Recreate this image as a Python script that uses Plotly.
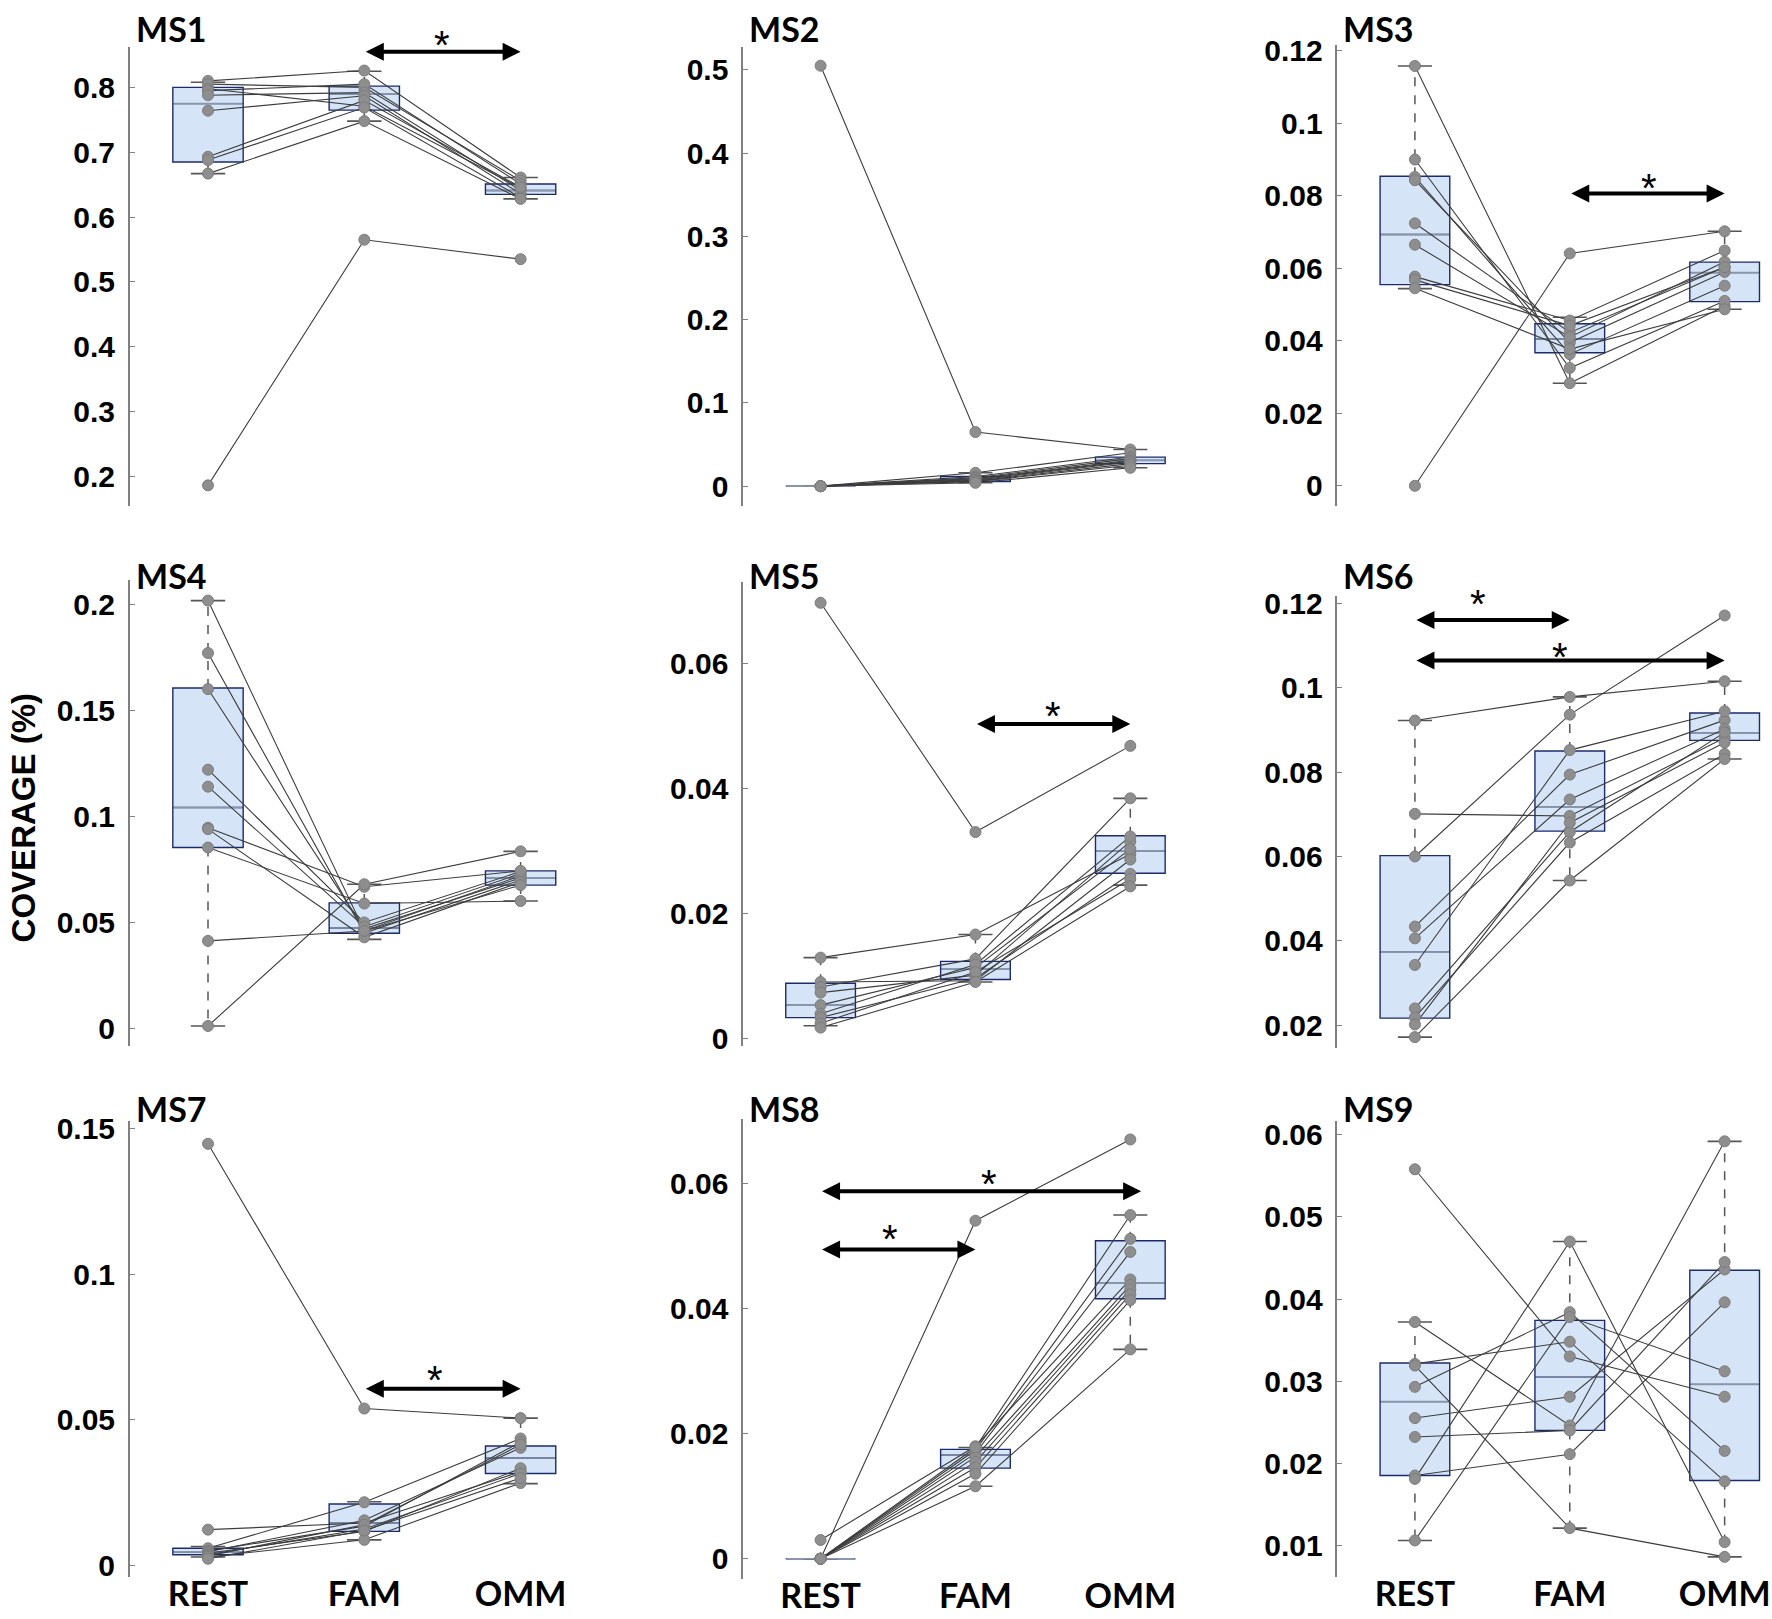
import plotly.graph_objects as go

conditions = ["REST", "FAM", "OMM"]
panel_names = ["MS1", "MS2", "MS3", "MS4", "MS5", "MS6", "MS7", "MS8", "MS9"]

# coverage per subject (10 subjects)
ms1_rest = [0.810, 0.805, 0.798, 0.795, 0.788, 0.764, 0.693, 0.688, 0.667, 0.186]
ms1_fam = [0.826, 0.800, 0.771, 0.805, 0.792, 0.787, 0.780, 0.769, 0.748, 0.565]
ms1_omm = [0.661, 0.656, 0.645, 0.651, 0.641, 0.636, 0.646, 0.630, 0.628, 0.535]

ms2_rest = [0.505, 0, 0, 0, 0, 0, 0, 0, 0, 0]
ms2_fam = [0.065, 0.016, 0.0115, 0.010, 0.009, 0.008, 0.007, 0.006, 0.0055, 0.004]
ms2_omm = [0.044, 0.040, 0.035, 0.033, 0.031, 0.030, 0.029, 0.027, 0.025, 0.022]

ms3_rest = [0.1158, 0.090, 0.0852, 0.0843, 0.0724, 0.0665, 0.0577, 0.0568, 0.0545, 0.0]
ms3_fam = [0.0283, 0.0325, 0.0363, 0.0395, 0.0423, 0.0410, 0.0456, 0.0442, 0.0377, 0.0641]
ms3_omm = [0.0496, 0.0510, 0.0552, 0.0590, 0.0603, 0.0618, 0.0649, 0.0603, 0.0487, 0.0702]

ms4_rest = [0.2017, 0.177, 0.160, 0.122, 0.114, 0.0946, 0.094, 0.0853, 0.0413, 0.0012]
ms4_fam = [0.046, 0.045, 0.047, 0.050, 0.048, 0.0668, 0.043, 0.0589, 0.046, 0.068]
ms4_omm = [0.072, 0.070, 0.071, 0.074, 0.073, 0.0743, 0.069, 0.0601, 0.0676, 0.0835]

ms5_rest = [0.0697, 0.0129, 0.009, 0.0082, 0.0073, 0.0053, 0.0039, 0.0033, 0.0024, 0.0017]
ms5_fam = [0.033, 0.0166, 0.0092, 0.0127, 0.0101, 0.0113, 0.0118, 0.0096, 0.0106, 0.0090]
ms5_omm = [0.0468, 0.0295, 0.0286, 0.0384, 0.0315, 0.0303, 0.0323, 0.0263, 0.0255, 0.0243]

ms6_rest = [0.0922, 0.0701, 0.060, 0.0434, 0.0406, 0.0343, 0.024, 0.0219, 0.0202, 0.0172]
ms6_fam = [0.0978, 0.0696, 0.0936, 0.0794, 0.0735, 0.0852, 0.0658, 0.0633, 0.0680, 0.0543]
ms6_omm = [0.1015, 0.0881, 0.1171, 0.0923, 0.0902, 0.0944, 0.0894, 0.0843, 0.0870, 0.0831]

ms7_rest = [0.1448, 0.0123, 0.0059, 0.0050, 0.0047, 0.0042, 0.0037, 0.0033, 0.0029, 0.0023]
ms7_fam = [0.0539, 0.0146, 0.0217, 0.0135, 0.0155, 0.0117, 0.0125, 0.0140, 0.0088, 0.0120]
ms7_omm = [0.0506, 0.0322, 0.0436, 0.0424, 0.0404, 0.0334, 0.0316, 0.0415, 0.0283, 0.0300]

ms8_rest = [0.0, 0.003, 0, 0, 0, 0, 0, 0, 0, 0]
ms8_fam = [0.0541, 0.0180, 0.0174, 0.0169, 0.0163, 0.0155, 0.0146, 0.0136, 0.0116, 0.0178]
ms8_omm = [0.0671, 0.0447, 0.0512, 0.0491, 0.0438, 0.0431, 0.0423, 0.0414, 0.0335, 0.0550]

ms9_rest = [0.0558, 0.0372, 0.0321, 0.0319, 0.0293, 0.0255, 0.0232, 0.0185, 0.0181, 0.0106]
ms9_fam = [0.0330, 0.0246, 0.0348, 0.0121, 0.0384, 0.0281, 0.0240, 0.0211, 0.0470, 0.0378]
ms9_omm = [0.0281, 0.0592, 0.0178, 0.0086, 0.0215, 0.0436, 0.0445, 0.0396, 0.0104, 0.0312]

# boxplot stats per condition (REST, FAM, OMM): q1, median, q3, whisker low/high
ms1_q1, ms1_med, ms1_q3 = [0.685, 0.765, 0.635], [0.775, 0.790, 0.641], [0.800, 0.802, 0.651]
ms1_lo, ms1_hi = [0.667, 0.748, 0.628], [0.808, 0.825, 0.661]
ms2_q1, ms2_med, ms2_q3 = [0, 0.0055, 0.027], [0, 0.008, 0.031], [0, 0.0115, 0.0348]
ms2_lo, ms2_hi = [0, 0.004, 0.022], [0, 0.016, 0.044]
ms3_q1, ms3_med, ms3_q3 = [0.0555, 0.0367, 0.0508], [0.0693, 0.0405, 0.0588], [0.0854, 0.0447, 0.0617]
ms3_lo, ms3_hi = [0.0544, 0.0283, 0.0487], [0.1158, 0.0465, 0.0702]
ms4_q1, ms4_med, ms4_q3 = [0.0853, 0.0449, 0.0676], [0.1042, 0.0474, 0.071], [0.1605, 0.0592, 0.0743]
ms4_lo, ms4_hi = [0.0012, 0.042, 0.0601], [0.2017, 0.068, 0.0835]
ms5_q1, ms5_med, ms5_q3 = [0.0033, 0.0094, 0.0264], [0.0053, 0.0111, 0.030], [0.0088, 0.0123, 0.0324]
ms5_lo, ms5_hi = [0.002, 0.009, 0.0245], [0.0129, 0.0166, 0.0384]
ms6_q1, ms6_med, ms6_q3 = [0.0217, 0.066, 0.0875], [0.0373, 0.0717, 0.0892], [0.0602, 0.085, 0.094]
ms6_lo, ms6_hi = [0.0172, 0.0543, 0.0831], [0.0922, 0.0978, 0.1015]
ms7_q1, ms7_med, ms7_q3 = [0.0037, 0.0117, 0.0316], [0.0047, 0.0146, 0.0369], [0.0059, 0.0211, 0.041]
ms7_lo, ms7_hi = [0.0029, 0.0088, 0.0281], [0.0065, 0.0219, 0.0506]
ms8_q1, ms8_med, ms8_q3 = [0, 0.0145, 0.0416], [0, 0.0166, 0.0441], [0, 0.0175, 0.0509]
ms8_lo, ms8_hi = [0, 0.0116, 0.0335], [0, 0.0178, 0.055]
ms9_q1, ms9_med, ms9_q3 = [0.0185, 0.024, 0.0179], [0.0275, 0.0305, 0.0296], [0.0322, 0.0374, 0.0435]
ms9_lo, ms9_hi = [0.0106, 0.0121, 0.0086], [0.0372, 0.047, 0.0592]

# y tick labels per panel
ms1_ticks = ["0.2", "0.3", "0.4", "0.5", "0.6", "0.7", "0.8"]
ms2_ticks = ["0", "0.1", "0.2", "0.3", "0.4", "0.5"]
ms3_ticks = ["0", "0.02", "0.04", "0.06", "0.08", "0.1", "0.12"]
ms4_ticks = ["0", "0.05", "0.1", "0.15", "0.2"]
ms5_ticks = ["0", "0.02", "0.04", "0.06"]
ms6_ticks = ["0.02", "0.04", "0.06", "0.08", "0.1", "0.12"]
ms7_ticks = ["0", "0.05", "0.1", "0.15"]
ms8_ticks = ["0", "0.02", "0.04", "0.06"]
ms9_ticks = ["0.01", "0.02", "0.03", "0.04", "0.05", "0.06"]

# significance arrows: (from condition, to condition, level, star x, star y)
ms1_sig = [(1, 2, 0.855, 1.5, 0.881)]
ms3_sig = [(1, 2, 0.0806, 1.51, 0.0848)]
ms5_sig = [(1, 2, 0.0503, 1.5, 0.0531)]
ms6_sig = [(0, 1, 0.116, 0.41, 0.1221), (0, 2, 0.1064, 0.94, 0.1095)]
ms7_sig = [(1, 2, 0.0607, 1.45, 0.067)]
ms8_sig = [(0, 2.07, 0.0588, 1.09, 0.0615), (0, 1, 0.0495, 0.45, 0.0527)]

g = globals()
panels = []
for n in range(1, 10):
    pre = "ms%d_" % n
    panels.append({k: g.get(pre + k) for k in
                   ["rest", "fam", "omm", "q1", "med", "q3", "lo", "hi", "ticks", "sig"]})

# ---- layout geometry (pixels of the 1772x1619 canvas)
W, H = 1772, 1619
col_px = [(130, 565), (744, 1175), (1339, 1770)]
panel_px = [(37, 502), (37, 502), (35, 502),
            (577, 1048), (579, 1048), (593, 1050),
            (1124, 1586), (1122, 1588), (1124, 1586)]
y_ranges = [(0.154, 0.863), (-0.024, 0.528), (-0.0056, 0.1217),
            (-0.0081, 0.2113), (-0.0012, 0.073), (0.0147, 0.1217),
            (-0.0041, 0.1527), (-0.0033, 0.0704), (0.0061, 0.0617)]
title_y = [19, 19, 19, 572, 572, 572, 1112, 1112, 1112]

BOX_FILL = "#d5e4f6"
BOX_EDGE = "#1c2a6e"
MED_COL = "#8a96aa"
WHISK = "#555555"
LINE_COL = "#3d3d3d"
DOT = "#8e8e8e"

fig = go.Figure()
layout = {}
annotations = []

for i, p in enumerate(panels):
    k = i + 1
    xa = "x" if k == 1 else "x%d" % k
    ya = "y" if k == 1 else "y%d" % k
    pos = [0, 1, 2]

    # boxes (no whiskers here, they are drawn dashed below)
    fig.add_trace(go.Box(x=pos, q1=p["q1"], median=p["med"], q3=p["q3"],
                         lowerfence=p["q1"], upperfence=p["q3"],
                         width=0.45, whiskerwidth=0, boxpoints=False,
                         fillcolor=BOX_FILL, line=dict(color=BOX_EDGE, width=1.4),
                         xaxis=xa, yaxis=ya, showlegend=False, hoverinfo="skip"))

    wx, wy, cx, cy, mx, my = [], [], [], [], [], []
    for j in pos:
        wx += [j, j, None, j, j, None]
        wy += [p["q3"][j], p["hi"][j], None, p["q1"][j], p["lo"][j], None]
        cx += [j - 0.11, j + 0.11, None, j - 0.11, j + 0.11, None]
        cy += [p["hi"][j], p["hi"][j], None, p["lo"][j], p["lo"][j], None]
        mx += [j - 0.22, j + 0.22, None]
        my += [p["med"][j], p["med"][j], None]
    fig.add_trace(go.Scatter(x=wx, y=wy, mode="lines", line=dict(color=WHISK, width=1.5, dash="dash"),
                             xaxis=xa, yaxis=ya, showlegend=False, hoverinfo="skip"))
    fig.add_trace(go.Scatter(x=cx, y=cy, mode="lines", line=dict(color=WHISK, width=1.6),
                             xaxis=xa, yaxis=ya, showlegend=False, hoverinfo="skip"))
    fig.add_trace(go.Scatter(x=mx, y=my, mode="lines", line=dict(color=MED_COL, width=1.6),
                             xaxis=xa, yaxis=ya, showlegend=False, hoverinfo="skip"))

    # subject trajectories
    lx, ly = [], []
    for a, b, c in zip(p["rest"], p["fam"], p["omm"]):
        lx += [0, 1, 2, None]
        ly += [a, b, c, None]
    fig.add_trace(go.Scatter(x=lx, y=ly, mode="lines", line=dict(color=LINE_COL, width=1.1),
                             xaxis=xa, yaxis=ya, showlegend=False, hoverinfo="skip"))
    n_sub = len(p["rest"])
    fig.add_trace(go.Scatter(x=[0] * n_sub + [1] * n_sub + [2] * n_sub,
                             y=p["rest"] + p["fam"] + p["omm"], mode="markers",
                             marker=dict(size=11, color=DOT, line=dict(color="#7c7c7c", width=1)),
                             xaxis=xa, yaxis=ya, showlegend=False, cliponaxis=False))

    x0, x1 = col_px[i % 3]
    top, bot = panel_px[i]
    lo_r, hi_r = y_ranges[i]
    px_per_unit = (bot - top) / (hi_r - lo_r)
    layout["xaxis" if k == 1 else "xaxis%d" % k] = dict(
        domain=[x0 / W, x1 / W], range=[-0.5, 2.28], anchor=ya,
        showline=False, showgrid=False, zeroline=False, ticks="",
        tickvals=pos, ticktext=conditions, showticklabels=(i >= 6),
        ticklabelstandoff=-6,
        tickfont=dict(family="Lato", size=34, color="black", weight="bold"))
    layout["yaxis" if k == 1 else "yaxis%d" % k] = dict(
        domain=[1 - bot / H, 1 - top / H], range=[lo_r, hi_r], anchor=xa,
        showline=True, linecolor="#808080", linewidth=1.6,
        ticks="inside", ticklen=5, tickcolor="#808080", tickwidth=1.4,
        showgrid=False, zeroline=False,
        tickvals=[float(t) for t in p["ticks"]], ticktext=p["ticks"],
        ticklabelstandoff=7,
        tickfont=dict(family="Liberation Sans", size=30, color="black", weight="bold"))

    annotations.append(dict(text=panel_names[i], xref="paper", yref="paper",
                            x=(x0 + 4) / W, y=1 - title_y[i] / H, xanchor="left", yanchor="middle",
                            showarrow=False, font=dict(family="Lato", size=34, color="black", weight="bold")))

    for s_from, s_to, lev, sx, sy in (p["sig"] or []):
        annotations.append(dict(x=s_to, y=lev, ax=s_from, ay=lev, xref=xa, yref=ya,
                                axref=xa, ayref=ya, text="", showarrow=True,
                                arrowhead=2, startarrowhead=2, arrowside="end+start",
                                arrowsize=0.9, startarrowsize=0.9, arrowwidth=4,
                                arrowcolor="black", standoff=0, startstandoff=0))
        # star anchored on the arrow level (always inside the range), lifted in pixels
        annotations.append(dict(x=sx, y=lev, xref=xa, yref=ya, text="*", showarrow=False,
                                yshift=(sy - lev) * px_per_unit - 10,
                                font=dict(family="Liberation Sans", size=40, color="black")))

annotations.append(dict(text="COVERAGE (%)", xref="paper", yref="paper", x=23 / W, y=1 - 817 / H,
                        textangle=-90, showarrow=False, xanchor="center", yanchor="middle",
                        font=dict(family="Liberation Sans", size=33, color="black", weight="bold")))

fig.update_layout(**layout)
fig.update_layout(width=W, height=H, margin=dict(l=0, r=0, t=0, b=0),
                  paper_bgcolor="white", plot_bgcolor="white",
                  annotations=annotations, showlegend=False)

# the page body has a default 8px margin; drop it so the canvas sits at the window origin
fig.write_html("out.html", config={"displayModeBar": False},
               post_script="document.body.style.margin='0';")
